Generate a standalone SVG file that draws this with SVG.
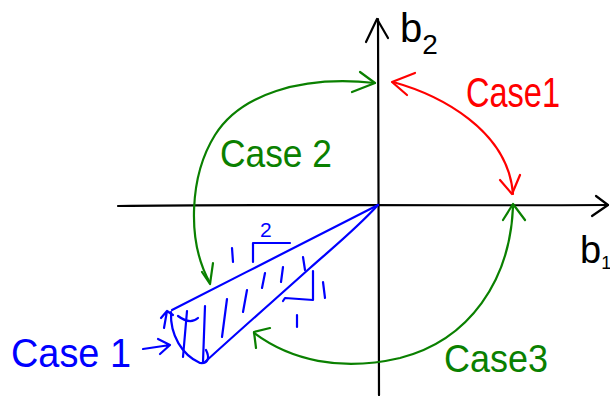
<svg xmlns="http://www.w3.org/2000/svg" width="610" height="396" viewBox="0 0 610 396">
<style>
.s{fill:none;stroke-linecap:round;stroke-linejoin:round;stroke-width:2.2}
.k{stroke:#000}.r{stroke:#f00}.g{stroke:#0a8000}.b{stroke:#0000ff}
.t{font-family:"Liberation Sans",Arial,sans-serif}
</style>
<rect width="610" height="396" fill="#fff"/>
<g id="axes" class="s k">
<path d="M118,206 C250,204 400,206 608,205"/>
<path d="M596,196 L608,205 L592,216"/>
<path d="M379,395 C379,270 378,150 378,19"/>
<path d="M366,42 L377,19 L388,38"/>
</g>
<g id="axis-labels" class="t" fill="#000">
<text x="400" y="42" font-size="40">b<tspan font-size="28" dy="12">2</tspan></text>
<text x="580" y="263" font-size="38">b<tspan font-size="18" dy="6">1</tspan></text>
</g>
<g id="connectors">
<g id="case1-red" class="s r">
<path d="M393,82 C440,95 508,130 513,194"/>
<path d="M415,73 L392,82 L407,95"/>
<path d="M500,180 L512,194 L520,175"/>
</g>
<g id="case2-green" class="s g">
<path d="M375,83 C300,75 240,95 215,135 C190,175 186,240 210,283"/>
<path d="M360,72 L375,83 L352,92"/>
<path d="M202,272 L210,284 L213,263"/>
</g>
<g id="case3-green" class="s g">
<path d="M513,207 C510,280 470,340 400,358 C340,372 290,360 254,333"/>
<path d="M503,220 L513,204 L525,220"/>
<path d="M270,328 L254,332 L256,348"/>
</g>
</g>
<g id="triangle" class="s b">
<path d="M378,205 C320,235 240,275 172,310"/>
<path d="M378,205 C355,230 330,250 310,268 C280,295 240,330 205,362"/>
<path d="M171,312 C170,335 182,355 200,363 C208,364 210,358 206,350"/>
<path d="M178,316 Q190,325 198,318"/>
<path d="M164,328 L167,311 M161,318 L167,311 L173,315"/>
<path d="M187,311 L183,357 M205,306 L203,362 M227,299 L222,337 M247,290 L243,312 M265,273 L262,288 M283,267 L281,282 M303,257 L305,270"/>
<path d="M232,248 L233,262"/>
<path d="M253,262 L253,243 L290,243"/>
<path d="M313,271 L313,300 L285,298 L283,301"/>
<path d="M323,282 L325,298"/>
<path d="M297,315 L297,327"/>
<path d="M143,349 L170,345 M158,339 L170,345 L160,354"/>
</g>
<g id="labels" class="t">
<text x="466" y="107" font-size="42" fill="#f00" textLength="94" lengthAdjust="spacingAndGlyphs">Case1</text>
<text x="220" y="167" font-size="38" fill="#0a8000" textLength="112" lengthAdjust="spacingAndGlyphs">Case 2</text>
<text x="444" y="372" font-size="38" fill="#0a8000" textLength="104" lengthAdjust="spacingAndGlyphs">Case3</text>
<text x="11" y="367" font-size="40" fill="#0000ff" textLength="120" lengthAdjust="spacingAndGlyphs">Case 1</text>
<text x="260" y="237" font-size="21" fill="#0000ff">2</text>
</g>
</svg>
